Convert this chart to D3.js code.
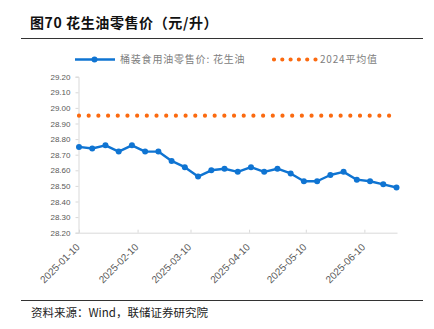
<!DOCTYPE html>
<html><head><meta charset="utf-8">
<script src="https://cdn.jsdelivr.net/npm/d3@7"></script>
<style>
html,body{margin:0;padding:0;background:#fff;}
svg{display:block;}
</style></head>
<body>
<svg id="c" width="434" height="329"></svg>
<script>
const title = "图70 花生油零售价（元/升）";
const source = "资料来源：Wind，联储证券研究院";
const seriesName = "桶装食用油零售价: 花生油";
const avgName = "2024平均值";
const dates = ["2025-01-10","2025-01-17","2025-01-24","2025-01-31","2025-02-07","2025-02-14","2025-02-21","2025-02-28",
  "2025-03-07","2025-03-14","2025-03-21","2025-03-28","2025-04-04","2025-04-11","2025-04-18","2025-04-25",
  "2025-05-02","2025-05-09","2025-05-16","2025-05-23","2025-05-30","2025-06-06","2025-06-13","2025-06-20","2025-06-27"];
const prices = [28.75,28.74,28.76,28.72,28.76,28.72,28.72,28.66,28.62,28.56,28.60,28.61,28.59,28.62,28.59,28.61,
  28.58,28.53,28.53,28.57,28.59,28.54,28.53,28.51,28.49];
const avg2024 = dates.map(() => 28.95);
const yTicks = [28.20,28.30,28.40,28.50,28.60,28.70,28.80,28.90,29.00,29.10,29.20];
const xTickLabels = ["2025-01-10","2025-02-10","2025-03-10","2025-04-10","2025-05-10","2025-06-10"];

const parse = d3.timeParse("%Y-%m-%d");
const svg = d3.select("#c");
const BLUE = "#0f74d2", ORANGE = "#fb6a10";

// title
svg.append("text").attr("x", 30).attr("y", 28)
  .attr("font-family", "'Noto Sans CJK SC', sans-serif").attr("font-weight", "bold")
  .attr("font-size", 14).attr("letter-spacing", 0.6).attr("fill", "#111").text(title);
svg.append("line").attr("x1", 21).attr("x2", 423).attr("y1", 38.5).attr("y2", 38.5)
  .attr("stroke", "#333").attr("stroke-width", 1);

// scales
const x = d3.scaleTime().domain([parse(dates[0]), parse(dates[dates.length-1])]).range([79, 396.5]);
const y = d3.scaleLinear().domain([28.2, 29.2]).range([232.7, 76.7]);

// y axis
const yAxis = d3.axisLeft(y).tickValues(yTicks).tickFormat(d3.format(".2f")).tickSize(3).tickPadding(5);
const gy = svg.append("g").attr("transform", "translate(78.5,0)").call(yAxis);
gy.select(".domain").attr("stroke", "#d9d9d9");
gy.selectAll(".tick line").attr("stroke", "#d9d9d9");
gy.selectAll("text").attr("font-family", "'Liberation Sans', Arial, sans-serif").attr("font-size", 8).attr("fill", "#595959");

// x axis
const xTicks = xTickLabels.map(parse);
const xAxis = d3.axisBottom(x).tickValues(xTicks).tickFormat(d3.timeFormat("%Y-%m-%d")).tickSizeInner(-3).tickSizeOuter(0);
const gx = svg.append("g").attr("transform", "translate(0,232.7)").call(xAxis);
gx.select(".domain").attr("stroke", "#d9d9d9").attr("d", "M78.5,0.5H397.5");
gx.selectAll(".tick line").attr("stroke", "#d9d9d9");
gx.selectAll("text").attr("font-family", "'Liberation Sans', Arial, sans-serif").attr("font-size", 10).attr("fill", "#595959")
  .attr("text-anchor", "end").attr("dy", null).attr("y", 0)
  .attr("transform", "translate(1,15) rotate(-45)");

// average dotted line
const lineGen = d3.line().x((d, i) => x(parse(dates[i]))).y(d => y(d));
svg.append("path").datum(avg2024).attr("d", lineGen).attr("fill", "none")
  .attr("stroke", ORANGE).attr("stroke-width", 4.2).attr("stroke-linecap", "round")
  .attr("stroke-dasharray", "0 9.69");

// price line
svg.append("path").datum(prices).attr("d", lineGen).attr("fill", "none")
  .attr("stroke", BLUE).attr("stroke-width", 2.4).attr("stroke-linejoin", "round");
svg.append("g").selectAll("circle").data(prices).join("circle")
  .attr("cx", (d, i) => x(parse(dates[i]))).attr("cy", d => y(d)).attr("r", 3).attr("fill", BLUE);

// legend
const ly = 59.5;
svg.append("line").attr("x1", 75).attr("x2", 115).attr("y1", ly).attr("y2", ly).attr("stroke", BLUE).attr("stroke-width", 2.4);
svg.append("circle").attr("cx", 94.5).attr("cy", ly).attr("r", 3).attr("fill", BLUE);
svg.append("text").attr("x", 120).attr("y", ly + 3.6).attr("font-family", "'Noto Sans CJK SC', sans-serif")
  .attr("font-size", 10).attr("letter-spacing", 0.8).attr("fill", "#808080").text(seriesName);
svg.append("line").attr("x1", 274).attr("x2", 316).attr("y1", ly).attr("y2", ly)
  .attr("stroke", ORANGE).attr("stroke-width", 4.2).attr("stroke-linecap", "round").attr("stroke-dasharray", "0 8.3");
svg.append("text").attr("x", 320).attr("y", ly + 3.6).attr("font-family", "'Noto Sans CJK SC', sans-serif")
  .attr("font-size", 10).attr("letter-spacing", 0.8).attr("fill", "#808080").text(avgName);

// footer
svg.append("line").attr("x1", 21).attr("x2", 423).attr("y1", 300.5).attr("y2", 300.5)
  .attr("stroke", "#333").attr("stroke-width", 1);
svg.append("text").attr("x", 31).attr("y", 317).attr("font-family", "'Noto Sans CJK SC', sans-serif")
  .attr("font-size", 11.5).attr("fill", "#222").text(source);
</script>
</body></html>
